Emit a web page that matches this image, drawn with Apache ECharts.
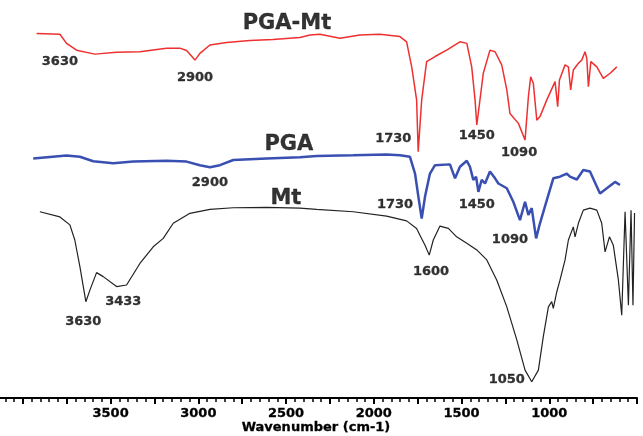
<!DOCTYPE html>
<html>
<head>
<meta charset="utf-8">
<script src="https://cdn.jsdelivr.net/npm/echarts@6/dist/echarts.min.js"></script>
<style>
  html, body { margin: 0; padding: 0; background: #fff; overflow: hidden; }
  #chart { width: 664px; height: 436px; margin-left: -21px; }
</style>
</head>
<body>
<div id="chart"></div>
<script>
// [wavenumber, transmittance (offset, arbitrary units)]
const pgaMt = [
  [3922, 91.6], [3789, 91.4], [3751, 89.1], [3694, 87.4], [3590, 86.4], [3466, 86.9],
  [3333, 87.0], [3181, 87.9], [3105, 87.9], [3067, 87.3], [3019, 84.9], [2991, 86.6],
  [2934, 88.7], [2839, 89.3], [2706, 89.8], [2575, 90.1], [2421, 90.6], [2364, 91.2],
  [2307, 91.4], [2193, 90.4], [2079, 91.2], [1965, 91.4], [1851, 90.8], [1813, 89.5],
  [1784, 83.2], [1756, 74.9], [1747, 61.9], [1727, 74.9], [1699, 84.5], [1651, 85.8],
  [1585, 87.4], [1509, 89.5], [1470, 89.1], [1442, 83.2], [1423, 74.9], [1413, 68.6],
  [1395, 74.9], [1376, 81.6], [1338, 87.4], [1309, 87.0], [1271, 83.7], [1242, 77.4],
  [1224, 71.5], [1176, 69.0], [1138, 64.8], [1119, 75.7], [1106, 80.7], [1091, 79.1],
  [1071, 69.8], [1053, 70.7], [1014, 74.9], [967, 79.5], [952, 73.2], [942, 79.9],
  [910, 83.7], [891, 83.2], [878, 77.4], [863, 82.4], [834, 84.1], [815, 84.9],
  [796, 87.0], [786, 85.3], [777, 78.2], [763, 84.5], [729, 83.2], [692, 80.3],
  [653, 81.6], [615, 83.2]
]
const pga = [
  [3941, 60.2], [3751, 60.9], [3675, 60.6], [3599, 59.5], [3485, 59.0], [3371, 59.4],
  [3181, 59.6], [3067, 59.4], [2991, 58.5], [2934, 58.0], [2877, 58.5], [2801, 59.8],
  [2611, 60.2], [2421, 60.5], [2326, 60.8], [2119, 61.0], [1927, 61.2], [1851, 61.0],
  [1794, 60.6], [1765, 56.4], [1746, 50.6], [1727, 45.1], [1708, 50.6], [1680, 56.4],
  [1651, 58.5], [1566, 58.7], [1537, 55.2], [1509, 58.1], [1470, 59.6], [1452, 58.1],
  [1433, 54.8], [1417, 55.6], [1404, 51.8], [1385, 54.8], [1366, 53.9], [1338, 56.9],
  [1309, 55.2], [1290, 53.9], [1242, 52.7], [1205, 49.3], [1167, 44.7], [1138, 49.3],
  [1119, 46.0], [1100, 47.7], [1075, 40.1], [1053, 43.9], [1014, 49.7], [977, 55.2],
  [939, 55.6], [900, 56.4], [882, 55.6], [843, 54.9], [806, 57.3], [768, 56.9],
  [711, 51.4], [672, 52.7], [625, 54.3], [597, 53.5]
]
const mt = [
  [3903, 46.8], [3789, 45.5], [3732, 43.5], [3704, 39.7], [3675, 33.0], [3641, 24.2],
  [3618, 27.1], [3580, 31.5], [3542, 30.5], [3466, 28.0], [3409, 28.4], [3333, 33.8],
  [3257, 38.0], [3200, 40.1], [3143, 43.9], [3048, 46.4], [2934, 47.4], [2801, 47.8],
  [2611, 47.9], [2421, 47.7], [2326, 47.4], [2117, 46.8], [1927, 45.7], [1813, 44.5],
  [1756, 42.6], [1737, 40.9], [1708, 38.4], [1684, 35.9], [1661, 39.7], [1623, 43.2],
  [1575, 42.6], [1528, 40.5], [1470, 38.9], [1413, 37.2], [1356, 34.7], [1299, 29.6],
  [1242, 22.9], [1185, 14.6], [1138, 7.0], [1100, 4.1], [1062, 7.0], [1034, 15.4],
  [1005, 22.9], [986, 24.2], [977, 22.5], [957, 26.7], [939, 29.6], [910, 34.7],
  [891, 39.7], [863, 43.0], [853, 40.5], [834, 43.9], [806, 47.2], [768, 47.7],
  [729, 47.2], [701, 43.9], [682, 36.7], [657, 40.5], [635, 38.4], [606, 29.6],
  [587, 20.8], [568, 46.8], [549, 23.3], [534, 47.2], [523, 23.3], [514, 46.5]
]
// peak labels: [text, wavenumber, y]
const peakLabels = [
  ['3630', 3789, 84.6], ['2900', 3019, 80.6], ['1730', 1889, 65.2], ['1450', 1413, 65.8], ['1090', 1172, 61.6],
  ['2900', 2934, 54.0], ['1730', 1879, 48.6], ['1450', 1413, 48.6], ['1090', 1224, 39.8],
  ['3630', 3656, 19.3], ['3433', 3428, 24.3], ['1600', 1674, 31.7], ['1050', 1242, 4.6]
]
const curveNames = [
  ['PGA-Mt', 2495, 94.0], ['PGA', 2484, 63.6], ['Mt', 2501, 50.0]
]
const tickLabels = [3500, 3000, 2500, 2000, 1500, 1000]

const chart = echarts.init(document.getElementById('chart'))
const font = 'DejaVu Sans'
const textBold = { fontFamily: font, fontWeight: 'bold', color: '#000', textBorderColor: '#000', textBorderWidth: 0.3 }
const option = {
  animation: false,
  grid: { left: 0, right: 6, top: 0, bottom: 38, outerBoundsMode: 'none', containLabel: false },
  xAxis: {
    type: 'value',
    inverse: true,
    min: 500,
    max: 4250,
    interval: 250,
    axisLine: { show: true, lineStyle: { color: '#000', width: 2 } },
    axisTick: { show: true, length: 6, lineStyle: { color: '#000', width: 2 } },
    minorTick: { show: true, splitNumber: 5, length: 4, lineStyle: { color: '#000', width: 1.5 } },
    splitLine: { show: false },
    axisLabel: Object.assign({
      margin: 9,
      fontSize: 13,
      formatter: v => (tickLabels.includes(v) ? String(v) : '')
    }, textBold),
    name: 'Wavenumber (cm-1)',
    nameLocation: 'middle',
    nameGap: 23,
    nameMoveOverlap: false,
    nameTextStyle: Object.assign({ fontSize: 13, padding: [0, 0, 0, 16] }, textBold)
  },
  yAxis: { type: 'value', min: 0, max: 100, show: false },
  series: [
    {
      name: 'PGA-Mt', type: 'line', data: pgaMt, showSymbol: false,
      lineStyle: { color: '#ee3030', width: 1.5 }
    },
    {
      name: 'PGA', type: 'line', data: pga, showSymbol: false,
      lineStyle: { color: '#3a4fb2', width: 2.5 }
    },
    {
      name: 'Mt', type: 'line', data: mt, showSymbol: false,
      lineStyle: { color: '#222', width: 1.2 }
    },
    {
      type: 'scatter', symbolSize: 0,
      data: peakLabels.map(d => ({ name: d[0], value: [d[1], d[2]] })),
      label: Object.assign({ show: true, position: 'inside', formatter: '{b}', fontSize: 13 }, textBold)
    },
    {
      type: 'scatter', symbolSize: 0,
      data: curveNames.map(d => ({ name: d[0], value: [d[1], d[2]] })),
      label: Object.assign({ show: true, position: 'inside', formatter: '{b}', fontSize: 21 }, textBold)
    }
  ]
}
chart.setOption(option)
</script>
</body>
</html>
